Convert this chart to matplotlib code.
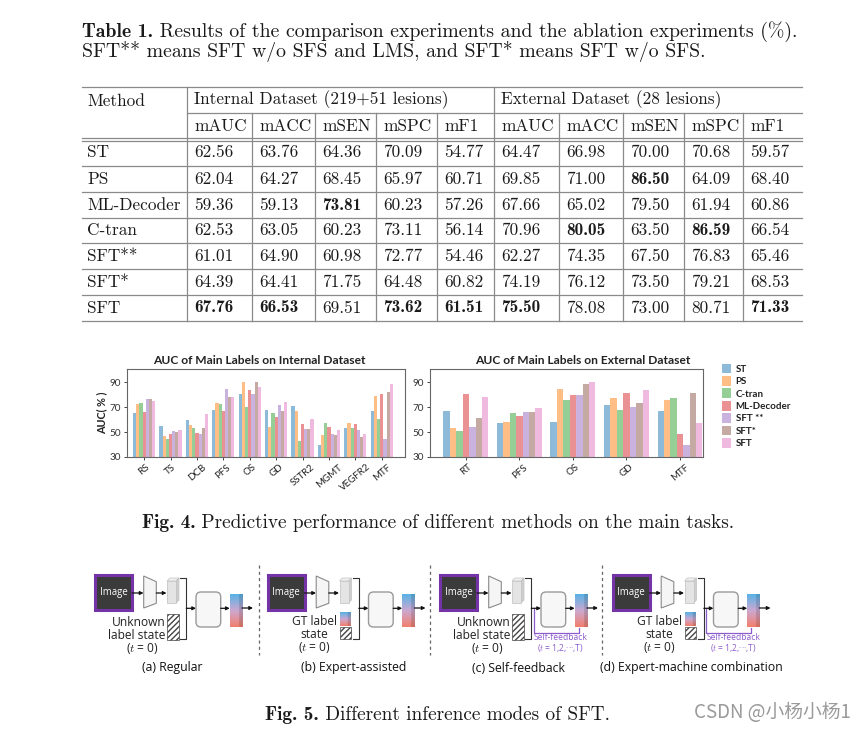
import numpy as np
import matplotlib
matplotlib.use('Agg')
import matplotlib.pyplot as plt
from matplotlib.patches import Rectangle, Polygon, FancyBboxPatch

# ---------------- data ----------------
methods = ['ST', 'PS', 'ML-Decoder', 'C-tran', 'SFT**', 'SFT*', 'SFT']
metrics = ['mAUC', 'mACC', 'mSEN', 'mSPC', 'mF1']
int_mauc = [62.56, 62.04, 59.36, 62.53, 61.01, 64.39, 67.76]
int_macc = [63.76, 64.27, 59.13, 63.05, 64.90, 64.41, 66.53]
int_msen = [64.36, 68.45, 73.81, 60.23, 60.98, 71.75, 69.51]
int_mspc = [70.09, 65.97, 60.23, 73.11, 72.77, 64.48, 73.62]
int_mf1 = [54.77, 60.71, 57.26, 56.14, 54.46, 60.82, 61.51]
ext_mauc = [64.47, 69.85, 67.66, 70.96, 62.27, 74.19, 75.50]
ext_macc = [66.98, 71.00, 65.02, 80.05, 74.35, 76.12, 78.08]
ext_msen = [70.00, 86.50, 79.50, 63.50, 67.50, 73.50, 73.00]
ext_mspc = [70.68, 64.09, 61.94, 86.59, 76.83, 79.21, 80.71]
ext_mf1 = [59.57, 68.40, 60.86, 66.54, 65.46, 68.53, 71.33]

series_names = ['ST', 'PS', 'C-tran', 'ML-Decoder', 'SFT **', 'SFT*', 'SFT']
internal_cats = ['RS', 'TS', 'DCB', 'PFS', 'OS', 'GD', 'SSTR2', 'MGMT', 'VEGFR2', 'MTF']
int_st = [65, 55, 59.5, 68, 81, 68, 71, 39.4, 53.7, 67]
int_ps = [72.2, 46.7, 55.6, 73.3, 90, 54.2, 67, 47.5, 57.4, 79.2]
int_ctran = [73.3, 44.8, 53.7, 72.5, 70, 65.2, 42.9, 57.4, 52.9, 60.4]
int_ml = [66.3, 48.3, 49.6, 66.9, 84.1, 62, 56.9, 54.5, 56.9, 80.3]
int_sft2 = [76.3, 50.7, 48.3, 84.6, 80.3, 71.7, 52.3, 48.8, 51.5, 44.8]
int_sft1 = [76.8, 50.2, 53.1, 77.9, 90.5, 67.1, 52.3, 47.8, 46.1, 82.6]
int_sft = [74.9, 51.5, 64.4, 77.9, 86, 74.1, 60.4, 51.5, 48.8, 88.9]
external_cats = ['RT', 'PFS', 'OS', 'GD', 'MTF']
ext_st = [67, 57.5, 58.5, 71.5, 67]
ext_ps = [53, 58.5, 84.5, 77, 75.5]
ext_ctran = [51, 65.5, 75.5, 68, 77]
ext_ml = [81, 63, 80, 81.5, 48.5]
ext_sft2 = [54.5, 66.5, 80, 70, 39.5]
ext_sft1 = [61, 66.5, 88.5, 73, 81.5]
ext_sft = [78, 69, 90, 83.5, 57]
yticks = [30, 50, 70, 90]

panel_titles = ['(a) Regular', '(b) Expert-assisted', '(c) Self-feedback',
                '(d) Expert-machine combination']

# ---------------- figure ----------------
W, H = 867, 731
plt.rcParams['mathtext.fontset'] = 'cm'
fig = plt.figure(figsize=(W / 100, H / 100), dpi=100)
ax0 = fig.add_axes([0, 0, 1, 1])
ax0.set_xlim(0, W)
ax0.set_ylim(H, 0)
ax0.axis('off')
renderer = fig.canvas.get_renderer()


def width(t):
    return t.get_window_extent(renderer).width


def fit(t, width_px):
    t.set_fontsize(t.get_fontsize() * width_px / width(t))
    return t.get_fontsize()


SERIF = ['cmr10', 'DejaVu Serif']
BSERIF = ['cmb10', 'DejaVu Serif']
TXT = '#1a1a1a'


def rich(x, y, bold, rest, fs=12, ha='left', target=None):
    tb = ax0.text(0, y, bold, family=BSERIF, fontsize=fs, color=TXT, va='baseline', ha='left')
    tr = ax0.text(0, y, rest, family=SERIF, fontsize=fs, color=TXT, va='baseline', ha='left')
    if target is not None:
        s = target / (width(tb) + width(tr))
        fs = fs * s
        tb.set_fontsize(fs)
        tr.set_fontsize(fs)
    wb, wr = width(tb), width(tr)
    start = x if ha == 'left' else x - (wb + wr) / 2
    tb.set_x(start)
    tr.set_x(start + wb)
    return fs


# ---- table caption ----
cfs = rich(82, 37, 'Table 1.', ' Results of the comparison experiments and the ablation experiments (%).',
           target=718)
ax0.text(82, 57.5, 'SFT** means SFT w/o SFS and LMS, and SFT* means SFT w/o SFS.',
         family=SERIF, fontsize=cfs, color=TXT, va='baseline', ha='left')

# ---- table ----
probe = ax0.text(194, 100, 'Internal Dataset (219+51 lesions)', family=SERIF, fontsize=12,
                 color=TXT, va='center', ha='left')
tfs = fit(probe, 254)
ax0.text(501, 100, 'External Dataset (28 lesions)', family=SERIF, fontsize=tfs,
         color=TXT, va='center', ha='left')
ax0.text(87, 101, 'Method', family=SERIF, fontsize=tfs, color=TXT, va='center', ha='left')

LC = '#8a8a8a'
tab_l, tab_r = 82, 802
vlines = [187, 252, 315, 376, 437, 494, 559, 623, 684, 743]
hl_rows = [166, 192, 218, 243, 269, 295, 321]
ax0.plot([tab_l, tab_r], [87, 87], color=LC, lw=0.9)
ax0.plot([187, tab_r], [113, 113], color=LC, lw=0.9)
ax0.plot([tab_l, tab_r], [138, 138], color=LC, lw=0.9)
ax0.plot([tab_l, tab_r], [140.5, 140.5], color=LC, lw=0.9)
for y in hl_rows:
    ax0.plot([tab_l, tab_r], [y, y], color=LC, lw=0.9)
for x in vlines:
    top = 87 if x in (187, 494) else 113
    ax0.plot([x, x], [top, 321], color=LC, lw=0.9)

col_left = vlines[:10]
for j, m in enumerate(metrics + metrics):
    ax0.text(col_left[j] + 7, 126, m, family=SERIF, fontsize=tfs, color=TXT, va='center', ha='left')

row_mid = [152.5, 179, 205, 230.5, 256, 282, 308]
cols = [int_mauc, int_macc, int_msen, int_mspc, int_mf1,
        ext_mauc, ext_macc, ext_msen, ext_mspc, ext_mf1]
for i, name in enumerate(methods):
    ax0.text(87, row_mid[i], name, family=SERIF, fontsize=tfs, color=TXT, va='center', ha='left')
    for j, col in enumerate(cols):
        v = col[i]
        best = v == max(col)
        ax0.text(col_left[j] + 7, row_mid[i], f'{v:.2f}', family=BSERIF if best else SERIF,
                 fontsize=tfs, color=TXT, va='center', ha='left')

# ---- bar charts ----
SANS = ['Lato', 'DejaVu Sans']
colors = ['#1f77b4', '#ff7f0e', '#2ca02c', '#d62728', '#9467bd', '#8c564b', '#e377c2']


def px_axes(l, t, r, b):
    return fig.add_axes([l / W, 1 - b / H, (r - l) / W, (b - t) / H])


def bar_chart(ax, cats, vals_list, xlim):
    x = np.arange(len(cats))
    w = 0.12
    hs = []
    for i, (name, vals) in enumerate(zip(series_names, vals_list)):
        hs.append(ax.bar(x + (i - 3) * w, vals, w, color=colors[i], alpha=0.5,
                         label=name, linewidth=0))
    ax.set_xlim(*xlim)
    ax.set_ylim(30, 100.7)
    ax.set_yticks(yticks)
    ax.set_xticks(x)
    ax.set_xticklabels(cats, rotation=40, family=SANS, fontsize=7, color='#222')
    for lab in ax.get_yticklabels():
        lab.set_family(SANS)
        lab.set_fontsize(7.2)
        lab.set_color('#333')
    ax.tick_params(axis='both', length=2.5, width=0.7, color='#444', pad=1.5)
    for s in ax.spines.values():
        s.set_color('#666')
        s.set_linewidth(0.8)
    return hs


ax_in = px_axes(127, 369, 405, 457)
bar_chart(ax_in, internal_cats,
          [int_st, int_ps, int_ctran, int_ml, int_sft2, int_sft1, int_sft], (-0.65, 9.88))
ax_in.set_ylabel('AUC( % )', family=SANS, fontsize=7.8, fontweight='bold', color='#222', labelpad=2)
ax_ex = px_axes(430, 369, 703, 457)
hs = bar_chart(ax_ex, external_cats,
               [ext_st, ext_ps, ext_ctran, ext_ml, ext_sft2, ext_sft1, ext_sft], (-0.67, 4.43))

t1 = fig.text(259 / W, 1 - 360 / H, 'AUC of Main Labels on Internal Dataset', family=SANS,
              fontsize=8, fontweight='bold', ha='center', va='center', color='#222')
fit(t1, 214)
t2 = fig.text(583 / W, 1 - 360 / H, 'AUC of Main Labels on External Dataset', family=SANS,
              fontsize=8, fontweight='bold', ha='center', va='center', color='#222')
fit(t2, 217)

leg = ax_ex.legend(hs, series_names, loc='upper left', bbox_to_anchor=(721.5 / W, 1 - 363.5 / H),
                   bbox_transform=fig.transFigure, frameon=False,
                   prop={'family': SANS, 'size': 7, 'weight': 'bold'},
                   handlelength=0.95, handleheight=1.2, handletextpad=0.5,
                   labelspacing=0.22, borderpad=0, borderaxespad=0)
for t in leg.get_texts():
    t.set_color('#222')

rich(438, 528, 'Fig. 4.', ' Predictive performance of different methods on the main tasks.',
     ha='center', target=595)

# ---- diagram ----
DSANS = ['Open Sans', 'DejaVu Sans']
PURPLE = '#8c5ccc'


def arrow(x0, y0, x1, y1, color='#111'):
    ax0.annotate('', xy=(x1, y1), xytext=(x0, y0),
                 arrowprops=dict(arrowstyle='-|>', color=color, lw=0.9, mutation_scale=5,
                                 shrinkA=0, shrinkB=0))


def gradient(x, y, w, h):
    top = np.array([0.35, 0.70, 0.90])
    mid = np.array([0.80, 0.66, 0.82])
    bot = np.array([0.95, 0.50, 0.43])
    n = 40
    t = np.linspace(0, 1, n)[:, None]
    col = np.where(t < 0.5, top + (mid - top) * (t / 0.5), mid + (bot - mid) * ((t - 0.5) / 0.5))
    img = np.repeat(col[:, None, :], 10, axis=1)
    img[:, 7:, :] *= 0.86
    ax0.imshow(img, extent=(x, x + w, y + h, y), aspect='auto', zorder=3, interpolation='bilinear')


def hatched(x, y, w, h):
    ax0.add_patch(Rectangle((x, y), w, h, facecolor='white', edgecolor='#444', hatch='//////',
                            lw=0.5, zorder=3))


probe2 = ax0.text(0, 0, 'label state', family=DSANS, fontsize=8)
text_fs = fit(probe2, 58)
probe2.remove()
probe3 = ax0.text(0, 0, 'Self-feedback', family=DSANS, fontsize=8)
sfs = fit(probe3, 54)
probe3.remove()
probe4 = ax0.text(0, 0, panel_titles[0], family=DSANS, fontsize=8)
cap_fs = fit(probe4, 61)
probe4.remove()

panel_x = [95, 267.5, 440, 612.5]
caption_x = [172, 354, 518, 691]
for k, ox in enumerate(panel_x):
    expert = k in (1, 3)
    feedback = k in (2, 3)
    # image box
    ax0.add_patch(Rectangle((ox, 575), 37, 35, facecolor='#3b3b3b', edgecolor='#7434a8', lw=2.2, zorder=3))
    ti = ax0.text(ox + 18.5, 593, 'Image', family=DSANS, fontsize=7, color='white',
                  ha='center', va='center', zorder=4)
    fit(ti, 28)
    arrow(ox + 37, 593, ox + 48.5, 593)
    ax0.add_patch(Polygon([(ox + 48.7, 576), (ox + 61.3, 581.7), (ox + 61.3, 603.3), (ox + 48.7, 608)],
                          closed=True, facecolor='#f5f5f5', edgecolor='#8a8a8a', lw=0.8, zorder=3))
    arrow(ox + 61.3, 593, ox + 71.5, 593)
    # 3D feature box
    ax0.add_patch(Polygon([(ox + 72, 581), (ox + 75, 578), (ox + 84, 578), (ox + 81, 581)],
                          closed=True, facecolor='#f0f0f0', edgecolor='#c0c0c0', lw=0.5, zorder=3))
    ax0.add_patch(Polygon([(ox + 81, 581), (ox + 84, 578), (ox + 84, 600), (ox + 81, 603)],
                          closed=True, facecolor='#cfcfcf', edgecolor='#c0c0c0', lw=0.5, zorder=3))
    ax0.add_patch(Rectangle((ox + 72, 581), 9, 22, facecolor='#e4e4e4', edgecolor='#c0c0c0', lw=0.5, zorder=3))
    # bracket
    ax0.plot([ox + 85, ox + 91.3, ox + 91.3, ox + 85], [578, 578, 639, 639], color='#333', lw=0.8)
    if expert:
        gradient(ox + 72, 612, 11, 14)
        hatched(ox + 72, 627, 11, 12)
        ax0.text(ox + 47, 635, 'GT label\nstate\n($\\it{t}$ = 0)', family=DSANS, fontsize=text_fs,
                 color='#222', ha='center', va='center', multialignment='center', linespacing=0.95)
    else:
        hatched(ox + 71.5, 614, 12, 26)
        ax0.text(ox + 70.5, 629, 'Unknown\nlabel state', family=DSANS, fontsize=text_fs, color='#222',
                 ha='right', va='center', multialignment='right', linespacing=0.95)
        ax0.text(ox + 47, 648, r'($\it{t}$ = 0)', family=DSANS, fontsize=text_fs, color='#222',
                 ha='center', va='center')
    arrow(ox + 91.3, 608.3, ox + 101, 608.3)
    ax0.add_patch(FancyBboxPatch((ox + 101, 592), 24.7, 35, boxstyle='round,pad=0,rounding_size=5',
                                 facecolor='#f7f7f7', edgecolor='#9a9a9a', lw=1.0, zorder=3))
    arrow(ox + 125.7, 608.3, ox + 134.7, 608.3)
    gradient(ox + 134.7, 594, 12.3, 33)
    arrow(ox + 147, 608, ox + 158, 608)
    if feedback:
        ax0.plot([ox + 138.7, ox + 138.7, ox + 93.7, ox + 93.7], [627.7, 633, 633, 609],
                 color=PURPLE, lw=0.9, zorder=2)
        ax0.text(ox + 120.7, 644, 'Self-feedback\n($\\it{t}$ = 1,2,···,T)', family=DSANS, fontsize=sfs,
                 color=PURPLE, ha='center', va='center', multialignment='center', linespacing=1.0,
                 zorder=4)
    ax0.text(caption_x[k], 668, panel_titles[k], family=DSANS, fontsize=cap_fs, color='#111',
             ha='center', va='center')

for x in [258.5, 430, 602]:
    ax0.plot([x, x], [565, 655], color='#666', lw=0.9, ls=(0, (2.5, 2.5)))

rich(437.5, 720, 'Fig. 5.', ' Different inference modes of SFT.', ha='center', target=345)

wm = ax0.text(851, 713, 'CSDN @小杨小杨1', family=['Noto Sans CJK SC', 'DejaVu Sans'],
              fontsize=10, color='#9a9a9a', ha='right', va='center')
fit(wm, 157)

fig.savefig('out.png', dpi=100)
